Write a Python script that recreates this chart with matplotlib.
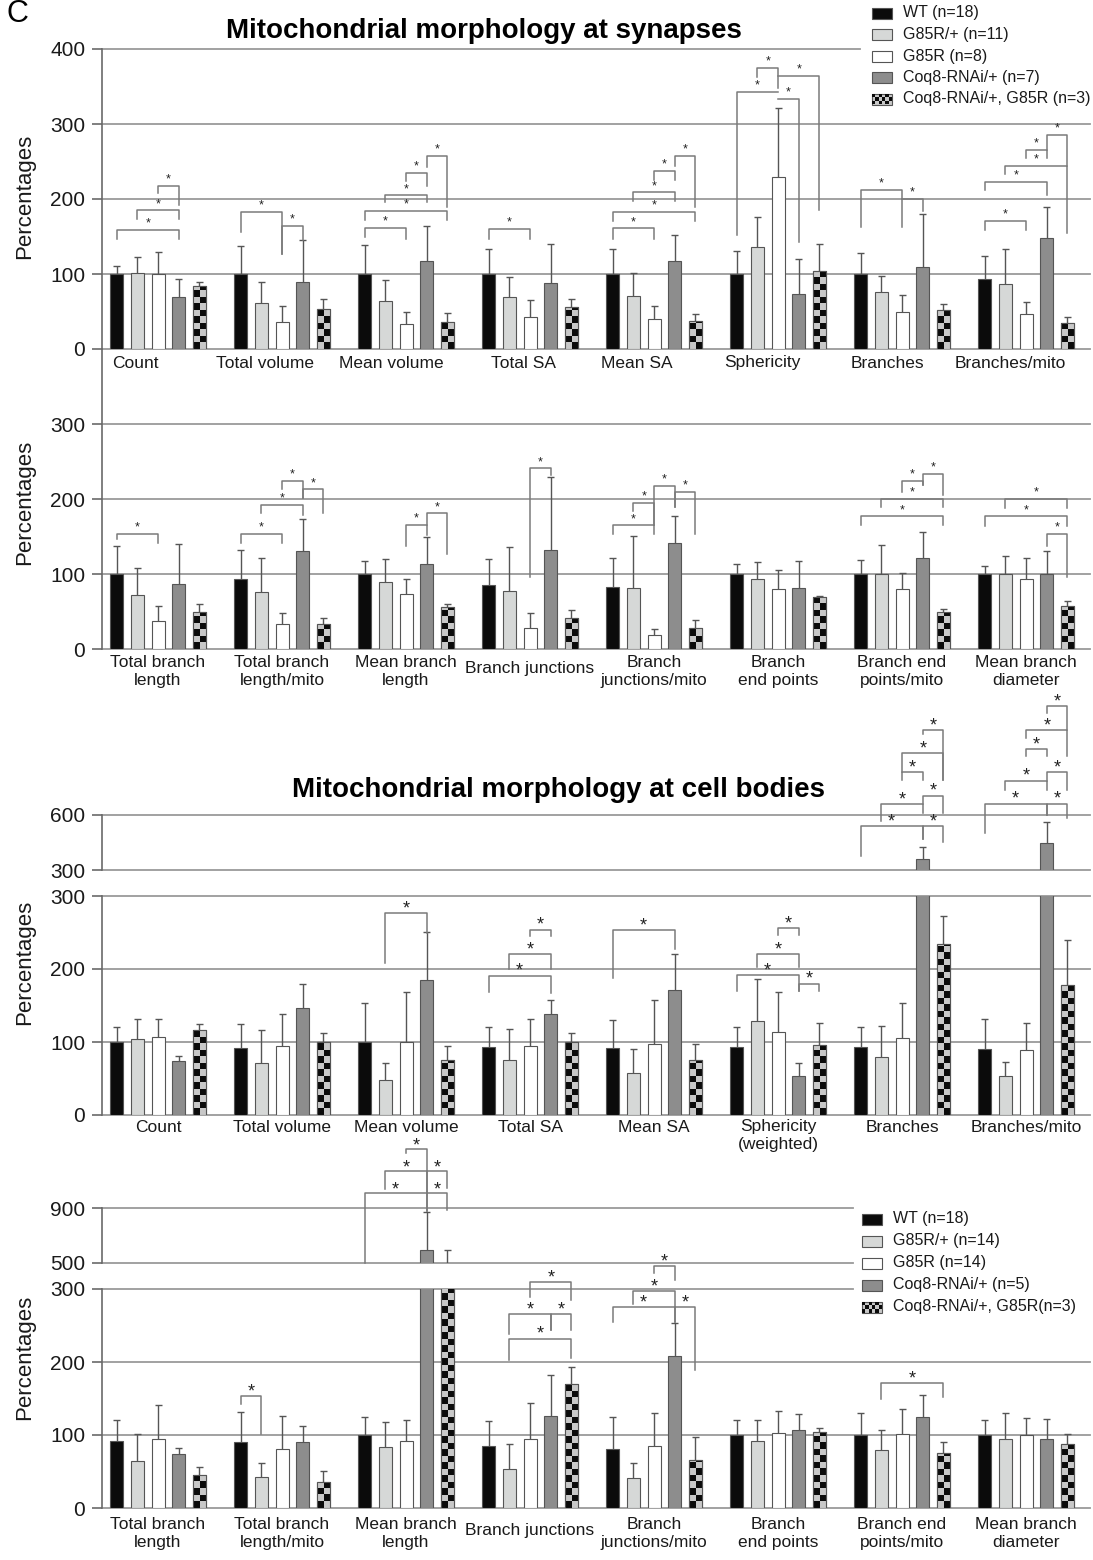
import numpy as np
import matplotlib
matplotlib.use("Agg")
import matplotlib.pyplot as plt
import matplotlib.transforms as mtransforms
from matplotlib.colors import ListedColormap
from matplotlib.patches import Rectangle

plt.rcParams['font.family'] = ['Liberation Sans', 'DejaVu Sans']

# ---------------- data ----------------
legend_syn = ['WT (n=18)', 'G85R/+ (n=11)', 'G85R (n=8)', 'Coq8-RNAi/+ (n=7)', 'Coq8-RNAi/+, G85R (n=3)']
legend_cb = ['WT (n=18)', 'G85R/+ (n=14)', 'G85R (n=14)', 'Coq8-RNAi/+ (n=5)', 'Coq8-RNAi/+, G85R(n=3)']

cats_a = ['Count', 'Total volume', 'Mean volume', 'Total SA', 'Mean SA', 'Sphericity', 'Branches', 'Branches/mito']
cats_b = ['Total branch\nlength', 'Total branch\nlength/mito', 'Mean branch\nlength', 'Branch junctions',
          'Branch\njunctions/mito', 'Branch\nend points', 'Branch end\npoints/mito', 'Mean branch\ndiameter']
cats_c = ['Count', 'Total volume', 'Mean volume', 'Total SA', 'Mean SA', 'Sphericity\n(weighted)', 'Branches', 'Branches/mito']

# rows: category, columns: WT, G85R/+, G85R, Coq8-RNAi/+, Coq8-RNAi/+ G85R
syn1_mean = [[100, 101, 100, 69, 84], [100, 62, 36, 90, 53], [100, 64, 33, 118, 36], [100, 69, 43, 88, 56],
             [100, 71, 40, 118, 38], [100, 136, 230, 74, 104], [100, 76, 49, 110, 52], [94, 87, 47, 148, 35]]
syn1_err = [[11, 22, 29, 25, 6], [37, 27, 22, 56, 14], [39, 28, 17, 46, 12], [33, 27, 22, 52, 11],
            [34, 30, 17, 34, 9], [31, 40, 92, 46, 36], [28, 22, 23, 70, 8], [30, 46, 16, 41, 8]]

syn2_mean = [[100, 72, 37, 87, 49], [93, 76, 34, 131, 33], [100, 89, 73, 113, 56], [86, 78, 28, 132, 41],
             [83, 82, 19, 142, 28], [100, 93, 80, 82, 70], [100, 100, 80, 121, 49], [100, 100, 93, 100, 58]]
syn2_err = [[37, 36, 20, 53, 11], [39, 46, 14, 42, 9], [17, 31, 21, 37, 4], [34, 58, 20, 98, 11],
            [38, 69, 8, 35, 11], [13, 23, 26, 36, 1], [19, 39, 22, 35, 5], [11, 24, 28, 31, 6]]

cb1_mean = [[100, 104, 107, 74, 117], [92, 71, 95, 146, 100], [100, 48, 100, 185, 75], [93, 75, 94, 138, 100],
            [92, 57, 97, 171, 76], [93, 129, 114, 53, 96], [93, 79, 105, 358, 234], [91, 53, 89, 446, 178]]
cb1_err = [[20, 28, 25, 7, 8], [32, 46, 43, 33, 13], [54, 23, 68, 66, 19], [27, 43, 38, 20, 13],
           [38, 33, 60, 50, 21], [27, 57, 54, 18, 30], [28, 43, 48, 66, 39], [40, 19, 37, 117, 62]]

cb2_mean = [[92, 64, 95, 74, 45], [90, 43, 81, 91, 35], [100, 83, 92, 595, 480], [85, 53, 95, 126, 170],
            [81, 41, 85, 208, 66], [100, 92, 103, 107, 104], [100, 79, 102, 124, 76], [100, 94, 100, 94, 88]]
cb2_err = [[29, 37, 46, 8, 11], [41, 19, 45, 22, 16], [25, 35, 29, 276, 115], [34, 34, 49, 56, 23],
           [44, 20, 45, 46, 31], [21, 28, 30, 22, 5], [30, 28, 33, 31, 15], [21, 36, 23, 28, 13]]

# significance brackets: (category, bar a, bar b, bracket height, left leg end, right leg end)
syn1_sig = [(0, 0, 3, 159, 147, 147), (0, 1, 3, 185, 173, 173), (0, 2, 3, 218, 208, 192),
            (1, 0, 2, 183, 156, 127), (1, 2, 3, 164, 127, 146),
            (2, 0, 2, 162, 150, 147), (2, 0, 4, 184, 172, 172), (2, 1, 3, 205, 196, 196),
            (2, 2, 3, 235, 224, 217), (2, 3, 4, 258, 243, 189),
            (3, 0, 2, 160, 147, 147),
            (4, 0, 2, 161, 147, 147), (4, 0, 4, 183, 171, 171), (4, 1, 3, 209, 197, 197),
            (4, 2, 3, 238, 225, 225), (4, 3, 4, 258, 244, 190),
            (5, 0, 2, 343, 152, 343), (5, 1, 2, 375, 363, 348), (5, 2, 3, 334, 334, 143), (5, 2, 4, 364, 364, 185),
            (6, 0, 2, 212, 163, 163), (6, 2, 3, 200, 200, 184),
            (7, 0, 2, 171, 159, 159), (7, 0, 3, 223, 212, 205), (7, 1, 4, 244, 234, 155),
            (7, 2, 3, 266, 255, 255), (7, 3, 4, 286, 266, 244)]
syn2_sig = [(0, 0, 2, 154, 147, 142),
            (1, 0, 2, 154, 141, 141), (1, 1, 3, 192, 182, 179), (1, 2, 3, 224, 214, 201), (1, 3, 4, 213, 201, 182),
            (2, 2, 3, 166, 137, 152), (2, 3, 4, 181, 166, 127),
            (3, 2, 3, 241, 96, 232),
            (4, 0, 2, 165, 153, 153), (4, 1, 2, 195, 184, 165), (4, 2, 3, 218, 165, 190), (4, 3, 4, 210, 190, 153),
            (6, 0, 4, 177, 165, 165), (6, 1, 4, 200, 190, 190), (6, 2, 3, 224, 210, 219), (6, 3, 4, 234, 219, 205),
            (7, 0, 4, 177, 164, 164), (7, 1, 4, 200, 188, 188), (7, 3, 4, 154, 137, 96)]
cb1_sig_low = [(2, 1, 3, 277, 208, 249),
               (3, 0, 3, 191, 168, 167), (3, 1, 3, 220, 200, 200), (3, 2, 3, 254, 245, 245),
               (4, 0, 3, 253, 187, 228),
               (5, 0, 3, 192, 170, 170), (5, 1, 3, 221, 203, 203), (5, 2, 3, 256, 247, 247), (5, 3, 4, 180, 170, 170)]
cb1_sig_up = [(6, 0, 3, 538, 377, 468), (6, 3, 4, 538, 468, 455), (6, 1, 3, 658, 565, 611), (6, 3, 4, 706, 658, 611),
              (6, 2, 3, 834, 790, 790), (6, 2, 4, 936, 834, 790), (6, 3, 4, 1064, 1042, 790),
              (7, 0, 3, 662, 501, 598), (7, 3, 4, 662, 598, 583), (7, 1, 3, 788, 739, 739), (7, 3, 4, 836, 788, 739),
              (7, 2, 3, 960, 921, 921), (7, 2, 4, 1064, 1022, 921), (7, 3, 4, 1192, 1159, 1064)]
cb2_sig_low = [(1, 0, 1, 153, 143, 101),
               (3, 1, 4, 232, 203, 205), (3, 1, 3, 266, 239, 244), (3, 3, 4, 266, 244, 244), (3, 2, 4, 309, 289, 285),
               (4, 0, 3, 275, 255, 255), (4, 3, 4, 275, 255, 189), (4, 1, 3, 297, 279, 275), (4, 2, 3, 331, 322, 312),
               (6, 1, 4, 171, 150, 152)]
cb2_sig_up = [(2, 0, 3, 1010, 500, 875), (2, 3, 4, 1010, 875, 888), (2, 1, 3, 1170, 1035, 1010),
              (2, 3, 4, 1170, 1010, 1047), (2, 2, 3, 1330, 1300, 1170)]

# ---------------- style ----------------
W, H = 1093, 1560
XL, XR = 102, 1090
STEP, BW, CAP = 0.167, 0.105, 0.028
XMIN = -0.452
XMAX = XMIN + (XR - XL) / 124.0
FACES = ['#0b0b0b', '#d6d8d7', '#ffffff', '#8d8d8d']
CHK = '#c8c8c8'
EDGE = '#555555'
AXC = '#6a6a6a'
GRID = '#9a9a9a'
BRC = '#7a7a7a'

fig = plt.figure(figsize=(W / 100, H / 100), dpi=100)


def px_axes(y0, y1):
    return fig.add_axes([XL / W, 1 - y1 / H, (XR - XL) / W, (y1 - y0) / H])


def setup(ax, ylo, yhi, ticks, grid, short=(), frac=1.0):
    ax.set_xlim(XMIN, XMAX)
    ax.set_ylim(ylo, yhi)
    ax.patch.set_alpha(0)
    for s in ['top', 'right', 'bottom']:
        ax.spines[s].set_visible(False)
    ax.spines['left'].set_color(AXC)
    ax.spines['left'].set_linewidth(1.2)
    ax.set_xticks([])
    ax.set_yticks(ticks)
    ax.tick_params(axis='y', length=7, width=1.2, color=AXC, labelsize=15, pad=5, labelcolor='#1a1a1a')
    for g in grid:
        ax.axhline(g, color=GRID, lw=1.3, zorder=1, clip_on=False)
    for g in short:
        ax.axhline(g, xmax=frac, color=GRID, lw=1.3, zorder=1, clip_on=False)


def draw_bars(ax, means, errs):
    ylo, yhi = ax.get_ylim()
    ppu = ax.get_position().height * H / (yhi - ylo)
    sq = 6.5 / ppu
    cmap = ListedColormap([CHK, '#0b0b0b'])
    for i in range(len(means)):
        for k in range(5):
            x = i + (k - 2) * STEP
            m, e = means[i][k], errs[i][k]
            if k < 4:
                ax.bar(x, m, BW, color=FACES[k], edgecolor=EDGE, linewidth=0.8, zorder=3)
            else:
                rect = ax.bar(x, m, BW, color=CHK, edgecolor=EDGE, linewidth=0.8, zorder=3)[0]
                n = int(np.ceil(m / sq))
                arr = np.add.outer(np.arange(n), np.arange(2)) % 2
                im = ax.imshow(arr, cmap=cmap, extent=(x - BW / 2, x + BW / 2, 0, n * sq),
                               aspect='auto', interpolation='nearest', zorder=3.2)
                im.set_clip_path(rect.get_path(), rect.get_transform())
                im.set_clip_box(ax.bbox)
                ax.bar(x, m, BW, fill=False, edgecolor=EDGE, linewidth=0.8, zorder=3.4)
            ax.vlines(x, m, m + e, color=EDGE, lw=1.0, zorder=2.5)
            ax.hlines(m + e, x - CAP, x + CAP, color=EDGE, lw=1.0, zorder=2.5)
    ax.set_xlim(XMIN, XMAX)
    ax.set_ylim(ylo, yhi)


def draw_sig(ax, sig, fs, dy):
    for cat, a, b, y, yl, yr in sig:
        xa = cat + (a - 2) * STEP
        xb = cat + (b - 2) * STEP
        ax.plot([xa, xa, xb, xb], [yl, y, y, yr], color=BRC, lw=1.1, clip_on=False, zorder=4)
        ax.annotate('*', ((xa + xb) / 2, y), xytext=(0, dy), textcoords='offset points',
                    ha='center', va='center', fontsize=fs, color='#222222', annotation_clip=False)


def draw_labels(ax, labels, y_single, y_top, dx=None):
    tr = mtransforms.blended_transform_factory(ax.transData, fig.transFigure)
    for i, lab in enumerate(labels):
        x = i + (dx[i] if dx else 0)
        if '\n' in lab:
            ax.text(x, 1 - y_top / H, lab, transform=tr, ha='center', va='top', fontsize=12.5,
                    linespacing=1.25, color='#1a1a1a')
        else:
            ax.text(x, 1 - y_single / H, lab, transform=tr, ha='center', va='center', fontsize=12.5,
                    color='#1a1a1a')


# ---------------- synapses ----------------
a1 = px_axes(49, 349)
setup(a1, 0, 400, [0, 100, 200, 300, 400], [0, 100, 200, 300], short=[400], frac=(860 - XL) / (XR - XL))
draw_bars(a1, syn1_mean, syn1_err)
draw_sig(a1, syn1_sig, 9, 4.5)
draw_labels(a1, cats_a, 363, 363, dx=[-0.18, -0.14, -0.12, -0.05, -0.14, -0.13, -0.12, -0.13])

a2 = px_axes(349, 649)
setup(a2, 0, 400, [0, 100, 200, 300], [0, 100, 200, 300])
draw_bars(a2, syn2_mean, syn2_err)
draw_sig(a2, syn2_sig, 9, 4.5)
draw_labels(a2, cats_b, 668, 655)

# ---------------- cell bodies ----------------
a3u = px_axes(815, 870)
setup(a3u, 300, 600, [300, 600], [300, 600])
draw_bars(a3u, cb1_mean, cb1_err)
draw_sig(a3u, cb1_sig_up, 13, 3)

a3 = px_axes(896, 1115)
setup(a3, 0, 300, [0, 100, 200, 300], [0, 100, 200, 300])
draw_bars(a3, cb1_mean, cb1_err)
draw_sig(a3, cb1_sig_low, 13, 3)
draw_labels(a3, cats_c, 1128, 1119)

a4u = px_axes(1208, 1263)
setup(a4u, 500, 900, [500, 900], [], short=[500, 900], frac=(853 - XL) / (XR - XL))
draw_bars(a4u, cb2_mean, cb2_err)
draw_sig(a4u, cb2_sig_up, 13, 2)

a4 = px_axes(1289, 1508)
setup(a4, 0, 300, [0, 100, 200, 300], [0, 100, 200], short=[300], frac=(853 - XL) / (XR - XL))
draw_bars(a4, cb2_mean, cb2_err)
draw_sig(a4, cb2_sig_low, 13, 3)
draw_labels(a4, cats_b, 1530, 1517)

# ---------------- titles, y labels, legends ----------------
fig.text(484 / W, 1 - 31 / H, 'Mitochondrial morphology at synapses', fontsize=20, fontweight='bold',
         ha='center', va='center')
fig.text(558 / W, 1 - 790 / H, 'Mitochondrial morphology at cell bodies', fontsize=20, fontweight='bold',
         ha='center', va='center')
fig.text(6 / W, 1 - 22 / H, 'C', fontsize=22, ha='left', va='baseline')
for yc in [196, 502, 962, 1357]:
    fig.text(25 / W, 1 - yc / H, 'Percentages', rotation=90, fontsize=16, ha='center', va='center',
             color='#1a1a1a')

ov = fig.add_axes([0, 0, 1, 1], zorder=10)
ov.set_xlim(0, W)
ov.set_ylim(H, 0)
ov.axis('off')


def legend(x, y0, step, labels):
    for k, lab in enumerate(labels):
        yc = y0 + k * step
        if k < 4:
            ov.add_patch(Rectangle((x, yc - 5.5), 20, 11, facecolor=FACES[k], edgecolor=EDGE, lw=0.8))
        else:
            ov.add_patch(Rectangle((x, yc - 5.5), 20, 11, facecolor=CHK, edgecolor=EDGE, lw=0.8))
            for r in range(3):
                for c in range(6):
                    if (r + c) % 2 == 0:
                        ov.add_patch(Rectangle((x + c * 20 / 6, yc - 5.5 + r * 11 / 3), 20 / 6, 11 / 3,
                                               facecolor='#0b0b0b', lw=0))
        ov.text(x + 31, yc, lab, fontsize=11.5, ha='left', va='center', color='#1a1a1a')


legend(872, 13, 21.5, legend_syn)
legend(862, 1219, 22, legend_cb)

fig.savefig('out.png', dpi=100)
